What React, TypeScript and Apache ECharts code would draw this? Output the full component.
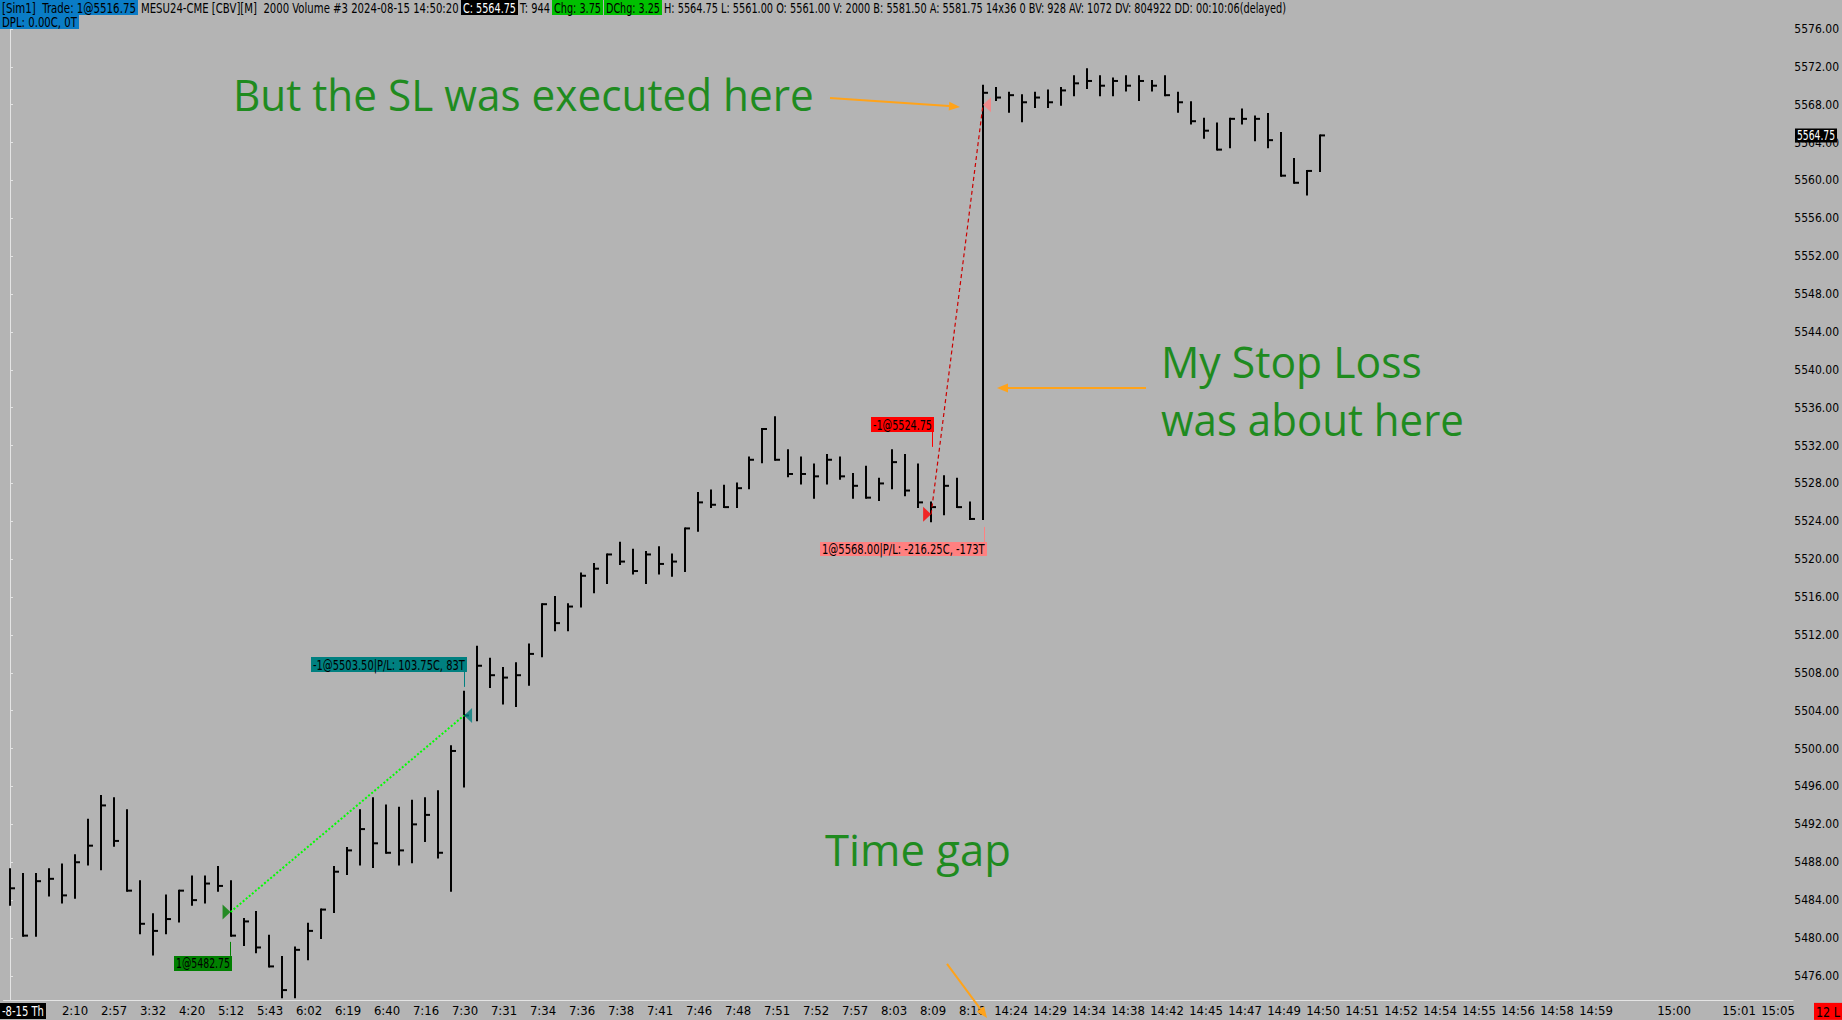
import React, { useEffect, useRef } from "react";
import * as echarts from "echarts";

// ---------- DATA ----------
const barHigh = [
  5487.25, 5486.75, 5486.75, 5487.25, 5487.75, 5488.75, 5492.5, 5495.0, 5494.75, 5493.5,
  5486.0, 5482.5, 5484.5, 5485.0, 5486.5, 5486.5, 5487.5, 5486.0, 5482.0, 5482.75,
  5480.25, 5478.0, 5479.0, 5481.5, 5483.0, 5487.5, 5489.5, 5493.5, 5494.75, 5494.0,
  5493.75, 5494.5, 5494.75, 5495.5, 5500.25, 5506.0, 5510.75, 5509.5, 5508.5, 5509.0,
  5511.0, 5515.25, 5516.0, 5515.25, 5518.5, 5519.5, 5520.5, 5521.75, 5521.0, 5520.75,
  5521.25, 5520.5, 5523.25, 5527.0, 5527.25, 5527.75, 5528.0, 5530.75, 5533.75, 5535.0,
  5531.5, 5530.75, 5530.0, 5531.0, 5530.75, 5529.0, 5529.75, 5528.5, 5531.5, 5531.0,
  5530.0, 5526.0, 5528.75, 5528.5, 5526.0, 5570.0, 5569.75, 5569.25, 5569.0, 5569.25,
  5569.5, 5569.75, 5571.0, 5571.75, 5571.0, 5570.75, 5571.0, 5571.0, 5570.5, 5571.0,
  5569.25, 5568.25, 5566.5, 5566.0, 5566.5, 5567.5, 5566.75, 5567.0, 5565.0, 5562.25,
  5561.0, 5564.75,
];
const barLow = [
  5483.5, 5480.25, 5480.25, 5484.5, 5483.75, 5484.25, 5487.75, 5487.25, 5489.75, 5485.0,
  5480.5, 5478.25, 5480.5, 5481.75, 5483.5, 5483.75, 5485.0, 5480.25, 5479.25, 5478.5,
  5477.0, 5473.75, 5473.75, 5477.75, 5480.0, 5482.75, 5486.75, 5487.75, 5487.5, 5489.0,
  5487.75, 5488.0, 5490.25, 5488.5, 5485.0, 5496.0, 5503.0, 5506.5, 5504.75, 5504.5,
  5506.75, 5509.75, 5512.5, 5512.5, 5515.0, 5516.5, 5517.5, 5519.5, 5518.5, 5517.5,
  5518.5, 5518.25, 5518.75, 5523.0, 5525.5, 5525.5, 5525.5, 5527.5, 5530.25, 5530.5,
  5528.75, 5528.0, 5526.5, 5528.0, 5528.5, 5526.5, 5526.5, 5526.25, 5527.5, 5526.75,
  5525.5, 5524.0, 5524.75, 5525.5, 5524.25, 5524.25, 5568.5, 5567.25, 5566.25, 5567.75,
  5567.75, 5568.0, 5569.0, 5569.75, 5569.0, 5569.0, 5569.5, 5568.5, 5569.5, 5569.0,
  5567.25, 5566.0, 5564.5, 5563.25, 5563.5, 5566.0, 5564.25, 5563.5, 5560.5, 5559.75,
  5558.5, 5561.0,
];
const barClose = [
  5485.25, 5480.25, 5486.0, 5486.25, 5484.5, 5488.0, 5489.75, 5494.0, 5490.25, 5485.0,
  5481.5, 5480.75, 5482.0, 5485.0, 5484.0, 5485.75, 5485.5, 5480.25, 5481.75, 5479.0,
  5477.0, 5474.5, 5478.75, 5480.75, 5483.0, 5487.0, 5489.25, 5491.5, 5490.0, 5489.0,
  5489.25, 5492.0, 5493.0, 5489.0, 5499.75, 5503.5, 5508.75, 5507.75, 5507.5, 5507.75,
  5510.0, 5515.25, 5513.25, 5515.0, 5518.25, 5519.0, 5520.5, 5519.75, 5518.75, 5520.5,
  5519.5, 5519.75, 5523.25, 5526.0, 5525.75, 5525.5, 5527.5, 5530.5, 5533.75, 5530.5,
  5529.0, 5529.0, 5528.75, 5530.5, 5528.75, 5527.75, 5526.5, 5528.0, 5530.25, 5527.25,
  5526.0, 5525.5, 5527.75, 5525.5, 5524.25, 5569.25, 5568.75, 5569.0, 5568.25, 5568.75,
  5568.25, 5569.5, 5570.25, 5570.5, 5570.0, 5570.5, 5570.0, 5570.5, 5570.0, 5569.0,
  5568.25, 5566.25, 5565.25, 5563.25, 5566.5, 5566.5, 5566.5, 5564.25, 5560.5, 5559.75,
  5561.0, 5564.75,
];

const timeTickIdx = [
  5, 8, 11, 14, 17, 20, 23, 26, 29, 32, 35, 38, 41, 44, 47, 50, 53, 56, 59, 62, 65, 68, 71, 74,
  77, 80, 83, 86, 89, 92, 95, 98, 101, 104, 107, 110, 113, 116, 119, 122, 128, 133, 136,
];
const timeTickText = [
  "2:10", "2:57", "3:32", "4:20", "5:12", "5:43", "6:02", "6:19", "6:40", "7:16", "7:30", "7:31",
  "7:34", "7:36", "7:38", "7:41", "7:46", "7:48", "7:51", "7:52", "7:57", "8:03", "8:09", "8:16",
  "14:24", "14:29", "14:34", "14:38", "14:42", "14:45", "14:47", "14:49", "14:50", "14:51",
  "14:52", "14:54", "14:55", "14:56", "14:58", "14:59", "15:00", "15:01", "15:05",
];

// trades: long entry -> exit, short entry -> stop exit
const longTrade = [[17, 5482.75], [35, 5503.5]];
const shortTrade = [[71, 5524.75], [75, 5568.0]];

const lastPrice = 5564.75;

// ---------- STYLE ----------
const BG = "#b4b4b4";
const AXIS = "#e4e4e4";
const FONT = '"Liberation Sans Narrow", "DejaVu Sans Condensed", "Liberation Sans", sans-serif';
const ANN_FONT = '"Open Sans", "Noto Sans", sans-serif';
const ANN_GREEN = "#1f8b1f";
const ORANGE = "#ffa31a";

// the price scale runs from 5472 (below the plot) to 5580 (above the page top)
const OFF = 8.88; // px of the chart canvas hidden above the page
const PLOT_BOTTOM = 1000;

let measureCtx: CanvasRenderingContext2D | null = null;
function fitScale(text: string, size: number, family: string, target: number) {
  if (!measureCtx) measureCtx = document.createElement("canvas").getContext("2d");
  if (!measureCtx) return 1;
  measureCtx.font = `${size}px ${family}`;
  const w = measureCtx.measureText(text).width;
  return w > 0 ? target / w : 1;
}

function fitText(text: string, x0: number, x1: number, yMid: number, size: number, family: string, color: string, z = 100) {
  return {
    type: "text",
    x: x0,
    y: yMid,
    scaleX: fitScale(text, size, family, x1 - x0),
    z,
    style: { text, fontSize: size, fontFamily: family, fill: color, align: "left", verticalAlign: "middle" },
  };
}

function box(text: string, x0: number, x1: number, y0: number, y1: number, bg: string | null, fg: string, size = 14) {
  const els: any[] = [];
  if (bg) els.push({ type: "rect", z: 99, shape: { x: x0, y: y0, width: x1 - x0, height: y1 - y0 }, style: { fill: bg } });
  els.push(fitText(text, x0 + (bg ? 2 : 0), x1 - (bg ? 2 : 0), (y0 + y1) / 2 + 0.5, size, FONT, fg));
  return els;
}

function arrow(x1: number, y1: number, x2: number, y2: number, color: string) {
  const a = Math.atan2(y2 - y1, x2 - x1);
  const L = 11, W = 4.5;
  const bx = x2 - L * Math.cos(a), by = y2 - L * Math.sin(a);
  const px = -Math.sin(a), py = Math.cos(a);
  return [
    { type: "line", z: 60, shape: { x1, y1, x2: bx, y2: by }, style: { stroke: color, lineWidth: 2 } },
    { type: "polygon", z: 60, shape: { points: [[x2, y2], [bx + px * W, by + py * W], [bx - px * W, by - py * W]] }, style: { fill: color } },
  ];
}

const GRID_LEFT = 3.5;
const GRID_W = 1789.5;
const BAR_STEP = 13;
const XMAX = -0.5 + GRID_W / BAR_STEP;

export default function App() {
  const ref = useRef<HTMLDivElement>(null);
  useEffect(() => {
    if (!ref.current) return;
    const chart = echarts.init(ref.current, null, { renderer: "svg" });
    const bars = barHigh.map((h, i) => [i, h, barLow[i], barClose[i]]);
    const tickMap: Record<number, string> = {};
    timeTickIdx.forEach((ix, k) => (tickMap[ix] = timeTickText[k]));

    const option: any = {
      animation: false,
      backgroundColor: BG,
      grid: [
        { left: GRID_LEFT, width: GRID_W, top: 0, height: 1022.76 },
        { left: GRID_LEFT, width: GRID_W, top: OFF, height: PLOT_BOTTOM },
      ],
      xAxis: [
        { type: "value", gridIndex: 0, min: -0.5, max: XMAX, show: false },
        {
          type: "value", gridIndex: 1, min: -0.5, max: XMAX, interval: 0.5,
          axisLine: { show: true, lineStyle: { color: AXIS, width: 1 } },
          axisTick: { show: false }, splitLine: { show: false },
          axisLabel: {
            color: "#000", fontSize: 13, fontFamily: FONT, margin: 4,
            formatter: (v: number) => {
              const r = Math.round(v);
              if (Math.abs(v - r) > 1e-6) return "";
              return tickMap[r] || "";
            },
          },
        },
      ],
      yAxis: [
        {
          type: "value", gridIndex: 0, position: "right", min: 5472, max: 5580, interval: 4,
          axisLine: { show: false },
          axisTick: { show: true, length: 3, lineStyle: { color: AXIS } },
          splitLine: { show: false },
          axisLabel: {
            color: "#000", fontSize: 12, fontFamily: FONT, margin: 5,
            formatter: (v: number) => (v <= 5472 || v >= 5580 ? "" : v.toFixed(2)),
          },
        },
        {
          type: "value", gridIndex: 1, position: "right", min: 0, max: 1,
          axisLine: { show: true, lineStyle: { color: AXIS, width: 1 } },
          axisTick: { show: false }, axisLabel: { show: false }, splitLine: { show: false },
        },
      ],
      series: [
        {
          type: "custom", xAxisIndex: 0, yAxisIndex: 0, clip: false, z: 2,
          data: bars,
          encode: { x: 0, y: [1, 2, 3] },
          renderItem: (params: any, api: any) => {
            const i = api.value(0);
            const top = api.coord([i, api.value(1)]);
            const bot = api.coord([i, api.value(2)]);
            const cl = api.coord([i, api.value(3)]);
            const x = Math.round(top[0]);
            return {
              type: "group",
              children: [
                { type: "line", shape: { x1: x, y1: top[1] - 1, x2: x, y2: bot[1] + 1 }, style: { stroke: "#000", lineWidth: 2 } },
                { type: "line", shape: { x1: x, y1: cl[1], x2: x + 5, y2: cl[1] }, style: { stroke: "#000", lineWidth: 2 } },
              ],
            };
          },
        },
        {
          type: "line", xAxisIndex: 0, yAxisIndex: 0, data: longTrade, symbol: "none", z: 3,
          lineStyle: { color: "#00ff00", width: 2, type: [2, 2] },
        },
        {
          type: "line", xAxisIndex: 0, yAxisIndex: 0, data: shortTrade, symbol: "none", z: 3,
          lineStyle: { color: "#cc0000", width: 1.2, type: [4, 3] },
        },
        {
          type: "scatter", xAxisIndex: 0, yAxisIndex: 0, z: 4, data: [longTrade[0]],
          symbol: "path://M0 0L10 7L0 14Z", symbolSize: [8, 15], symbolOffset: [-4, 0],
          itemStyle: { color: "#008000" },
        },
        {
          type: "scatter", xAxisIndex: 0, yAxisIndex: 0, z: 4, data: [longTrade[1]],
          symbol: "path://M10 0L0 7L10 14Z", symbolSize: [8, 15], symbolOffset: [4, 0],
          itemStyle: { color: "#008080" },
        },
        {
          type: "scatter", xAxisIndex: 0, yAxisIndex: 0, z: 4, data: [shortTrade[0]],
          symbol: "path://M0 0L10 7L0 14Z", symbolSize: [8, 15], symbolOffset: [-4, 0],
          itemStyle: { color: "#ff0000" },
        },
        {
          type: "scatter", xAxisIndex: 0, yAxisIndex: 0, z: 4, data: [shortTrade[1]],
          symbol: "path://M10 0L0 7L10 14Z", symbolSize: [8, 15], symbolOffset: [4, 0],
          itemStyle: { color: "#ff8080" },
        },
      ],
    };
    chart.setOption(option);

    const lastY = (chart.convertToPixel({ gridIndex: 0 } as any, [barHigh.length - 1, lastPrice]) as number[])[1] - OFF;

    const g: any[] = [];
    // header line 1
    g.push(...box("[Sim1]  Trade: 1@5516.75", 0, 138, 0, 15, "#0a7cc6", "#000"));
    g.push(...box("MESU24-CME [CBV][M]  2000 Volume #3 2024-08-15 14:50:20", 141, 459, 0, 15, null, "#000"));
    g.push(...box("C: 5564.75", 461, 518, 0, 15, "#000", "#fff"));
    g.push(...box("T: 944", 520, 550, 0, 15, null, "#000"));
    g.push(...box("Chg: 3.75", 552, 603, 0, 15, "#00c000", "#000"));
    g.push(...box("DChg: 3.25", 604, 662, 0, 15, "#00c000", "#000"));
    g.push(...box("H: 5564.75 L: 5561.00 O: 5561.00 V: 2000 B: 5581.50 A: 5581.75 14x36 0 BV: 928 AV: 1072 DV: 804922 DD: 00:10:06(delayed)", 664, 1287, 0, 15, null, "#000"));
    // header line 2
    g.push(...box("DPL: 0.00C, 0T", 0, 79, 15, 29, "#0a7cc6", "#000"));

    // trade labels
    g.push({ type: "line", z: 98, shape: { x1: 230.5, y1: 942, x2: 230.5, y2: 956 }, style: { stroke: "#008000", lineWidth: 1 } });
    g.push(...box("1@5482.75", 174, 232, 956, 971, "#008000", "#000"));
    g.push({ type: "line", z: 98, shape: { x1: 464.5, y1: 672, x2: 464.5, y2: 687 }, style: { stroke: "#008080", lineWidth: 1 } });
    g.push(...box("-1@5503.50|P/L: 103.75C, 83T", 311, 467, 657, 672, "#008080", "#000"));
    g.push({ type: "line", z: 98, shape: { x1: 932.5, y1: 432, x2: 932.5, y2: 447 }, style: { stroke: "#ff0000", lineWidth: 1 } });
    g.push(...box("-1@5524.75", 871, 934, 417, 432, "#ff0000", "#000"));
    g.push({ type: "line", z: 98, shape: { x1: 984.5, y1: 527, x2: 984.5, y2: 542 }, style: { stroke: "#ff8080", lineWidth: 1 } });
    g.push(...box("1@5568.00|P/L: -216.25C, -173T", 820, 987, 542, 556, "#ff8080", "#000"));

    // price marker on axis
    g.push(...box("5564.75", 1795, 1837, lastY - 7, lastY + 7, "#000", "#fff"));
    // bottom boxes
    g.push(...box("-8-15 Th", 0, 46, 1003, 1019, "#000", "#fff"));
    g.push(...box("12 L", 1814, 1842, 1003, 1020, "#ff0000", "#000"));

    // annotations
    g.push(fitText("But the SL was executed here", 233, 814, 94, 44, ANN_FONT, ANN_GREEN, 70));
    g.push(fitText("My Stop Loss", 1161, 1422, 361, 44, ANN_FONT, ANN_GREEN, 70));
    g.push(fitText("was about here", 1161, 1464, 419, 44, ANN_FONT, ANN_GREEN, 70));
    g.push(fitText("Time gap", 825, 1011, 849, 44, ANN_FONT, ANN_GREEN, 70));

    g.push(...arrow(830, 98, 960, 107, ORANGE));
    g.push(...arrow(1146, 388, 997, 388, ORANGE));
    g.push(...arrow(947, 964, 987, 1018, ORANGE));

    chart.setOption({ graphic: [{ type: "group", x: 0, y: OFF, children: g }] });

    return () => chart.dispose();
  }, []);
  return (
    <div
      ref={ref}
      style={{ position: "fixed", left: 0, top: -OFF, width: 1842, height: 1020 + OFF, background: BG }}
    />
  );
}
